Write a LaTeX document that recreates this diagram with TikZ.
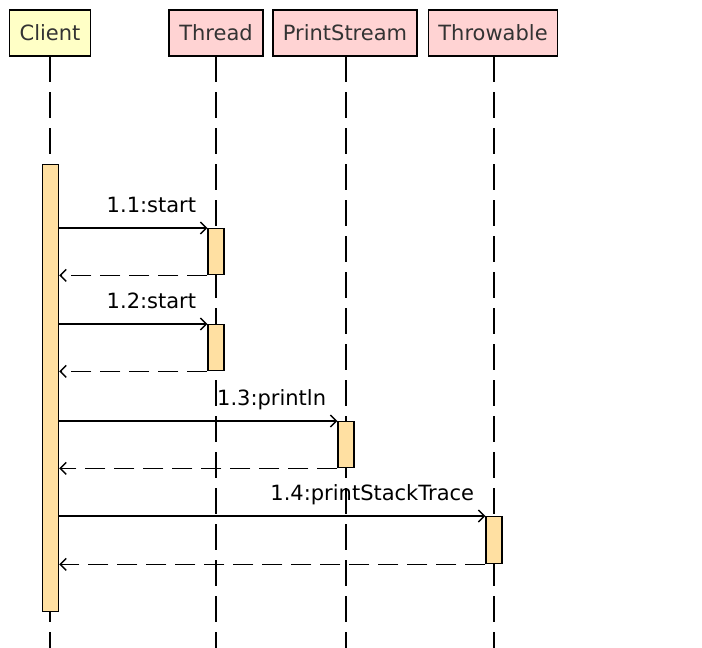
\documentclass[tikz,border=0pt]{standalone}
\usepackage{fontspec}
\setmainfont{DejaVu Sans}
\usetikzlibrary{arrows.meta}
\definecolor{clientfill}{HTML}{FFFFC6}
\definecolor{objfill}{HTML}{FFD3D3}
\definecolor{actfill}{HTML}{FFE0A2}
\definecolor{headtext}{HTML}{333333}
\tikzset{
	head/.style={draw, line width=1.6pt, minimum height=46pt, inner xsep=10pt, text=headtext, font=\fontsize{21}{25}\selectfont},
	act/.style={draw, line width=1.4pt, fill=actfill, minimum width=16pt, inner sep=0pt, anchor=north},
	life/.style={line width=1.5pt, dash pattern=on 26pt off 10pt},
	msg/.style={line width=1.4pt, -{Straight Barb[length=6pt,width=12pt]}},
	ret/.style={msg, dash pattern=on 20pt off 9pt},
	lbl/.style={anchor=base east, inner sep=0pt, font=\fontsize{21}{25}\selectfont}
}

\begin{document}
\begin{tikzpicture}[x=1pt,y=-1pt]
			%%%%% START %%%%%
			\useasboundingbox (0,0) rectangle (702,648);
			
			\node[head, fill=clientfill] (client) at (50,33) {Client};
			\node[head, fill=objfill] (thread) at (216,33) {Thread};
			\node[head, fill=objfill] (pstream) at (345,33) {PrintStream};
			\node[head, fill=objfill] (throwable) at (493,33) {Throwable};
			
			\draw[life] (50,56) -- (50,648);
			\draw[life] (216,56) -- (216,648);
			\draw[life] (346,56) -- (346,648);
			\draw[life] (494,56) -- (494,648);
			
			\node[act, minimum height=447pt] (c0) at (50.5,164) {};
			
			\node[act, minimum height=46pt] (t1) at (216,228) {};
			\node[act, minimum height=46pt] (t2) at (216,324) {};
			\node[act, minimum height=46pt] (p1) at (346,421) {};
			\node[act, minimum height=47pt] (w1) at (494,516) {};
			
			\draw[msg] (t1.north west -| c0.east) -- (t1.north west);
			\node[lbl] (l1) at ([xshift=-11pt,yshift=16pt]t1.north west) {1.1:start};
			\draw[ret] (t1.south west) -- (t1.south west -| c0.east);
			
			\draw[msg] (t2.north west -| c0.east) -- (t2.north west);
			\node[lbl] (l2) at ([xshift=-11pt,yshift=16pt]t2.north west) {1.2:start};
			\draw[ret] (t2.south west) -- (t2.south west -| c0.east);
			
			\draw[msg] (p1.north west -| c0.east) -- (p1.north west);
			\node[lbl] (l3) at ([xshift=-11pt,yshift=16pt]p1.north west) {1.3:println};
			\draw[ret] (p1.south west) -- (p1.south west -| c0.east);
			
			\draw[msg] (w1.north west -| c0.east) -- (w1.north west);
			\node[lbl] (l4) at ([xshift=-11pt,yshift=16pt]w1.north west) {1.4:printStackTrace};
			\draw[ret] (w1.south west) -- (w1.south west -| c0.east);
			
			%%%%% END %%%%%
\end{tikzpicture}
\end{document}
